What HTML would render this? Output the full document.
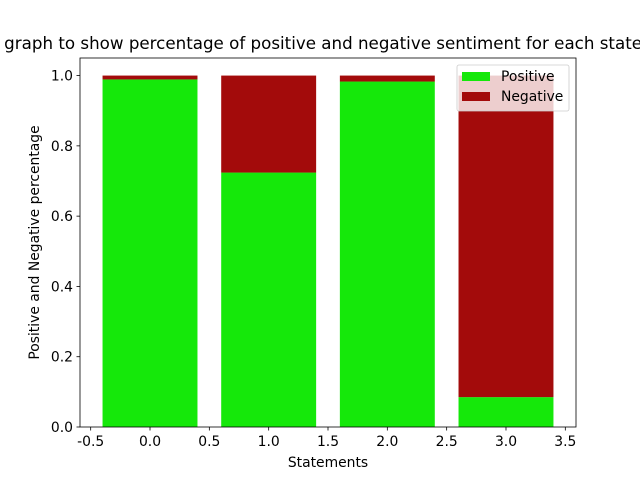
<!DOCTYPE html>
<html><head><meta charset="utf-8"><style>
body{margin:0;background:#fff;}
svg text{font-family:"DejaVu Sans","Liberation Sans",sans-serif;fill:#000;}
</style></head><body>
<svg id="chart" width="640" height="480" xmlns="http://www.w3.org/2000/svg">
<rect width="640" height="480" fill="#fff"/>
<text x="328" y="49" font-size="16.7" text-anchor="middle">Bar graph to show percentage of positive and negative sentiment for each statement</text>
<g id="bars"></g>
<g id="axes"></g>
</svg>
<script>
const categories=[0,1,2,3];
const positive=[0.989,0.724,0.983,0.085];
const negative=[0.011,0.276,0.017,0.915];
const xTicks=[-0.5,0.0,0.5,1.0,1.5,2.0,2.5,3.0,3.5];
const yTicks=[0.0,0.2,0.4,0.6,0.8,1.0];
const L=80,R=576,T=58,B=427,xmin=-0.59,xmax=3.59,ymin=0,ymax=1.05;
const sx=v=>L+(v-xmin)/(xmax-xmin)*(R-L);
const sy=v=>B-(v-ymin)/(ymax-ymin)*(B-T);
const NS="http://www.w3.org/2000/svg";
function mk(tag,attrs,parent){const e=document.createElementNS(NS,tag);for(const k in attrs)e.setAttribute(k,attrs[k]);parent.appendChild(e);return e;}
const bars=document.getElementById('bars'),axes=document.getElementById('axes');
categories.forEach((c,i)=>{
 const x0=sx(c-0.4),w=sx(c+0.4)-x0;
 const p=mk('rect',{x:x0,y:sy(positive[i]),width:w,height:sy(0)-sy(positive[i]),fill:'#15e80a'},bars);
 
 
 const n=mk('rect',{x:x0,y:sy(positive[i]+negative[i]),width:w,height:sy(positive[i])-sy(positive[i]+negative[i]),fill:'#a30b0b'},bars);
 
 
});
const frame=mk('rect',{x:L,y:T,width:R-L,height:B-T,fill:'none',stroke:'#000','stroke-width':0.8},axes);


xTicks.forEach(t=>{
 const x=sx(t);
 mk('line',{x1:x,x2:x,y1:B,y2:B+3.5,stroke:'#000','stroke-width':0.8},axes);
 const tx=mk('text',{x:x,y:B+19,'font-size':13.9,'text-anchor':'middle'},axes);
 tx.textContent=t.toFixed(1);
 
 
});
yTicks.forEach(t=>{
 const y=sy(t);
 mk('line',{x1:L,x2:L-3.5,y1:y,y2:y,stroke:'#000','stroke-width':0.8},axes);
 const tx=mk('text',{x:L-7,y:y+5,'font-size':13.9,'text-anchor':'end'},axes);
 tx.textContent=t.toFixed(1);
 
 
});
const xt=mk('text',{x:(L+R)/2,y:467,'font-size':13.9,'text-anchor':'middle'},axes);
xt.textContent='Statements';


const yt=mk('text',{x:39,y:(T+B)/2,'font-size':13.9,'text-anchor':'middle',transform:'rotate(-90 39 '+((T+B)/2)+')'},axes);
yt.textContent='Positive and Negative percentage';


const lg=mk('g',{},axes);


mk('rect',{x:457,y:65,width:112,height:46,rx:2,fill:'#fff','fill-opacity':0.8,stroke:'#ccc','stroke-width':0.8},lg);
[['Positive','#15e80a',72],['Negative','#a30b0b',92]].forEach(([lab,col,y])=>{
 const e=mk('g',{},lg);
 
 
 mk('rect',{x:462,y:y,width:28,height:9,fill:col},e);
 const t=mk('text',{x:501,y:y+9,'font-size':13.9},e);
 t.textContent=lab;
});
</script>
</body></html>
